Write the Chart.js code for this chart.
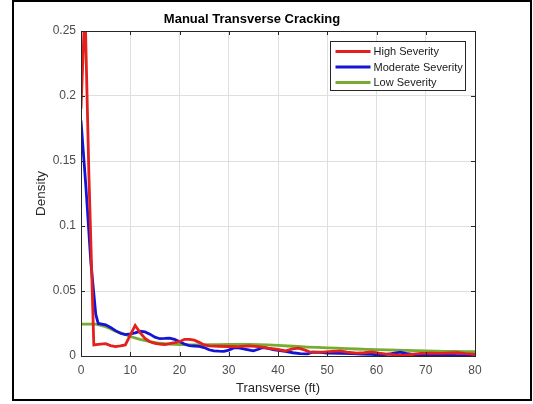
<!DOCTYPE html>
<html>
<head>
<meta charset="utf-8">
<script src="https://cdn.jsdelivr.net/npm/chart.js@4.4.1/dist/chart.umd.min.js"></script>
<style>
  html, body { margin: 0; padding: 0; background: #fff; }
  #wrap { position: relative; width: 533px; height: 404px; }
  #frame { position: absolute; left: 12px; top: 0; width: 516px; height: 397px; border: 2px solid #000; }
  #c { position: absolute; left: 0; top: 0; }
</style>
</head>
<body>
<div id="wrap">
  <div id="frame"></div>
  <canvas id="c" width="533" height="404"></canvas>
</div>
<script>
// Density curves for manual transverse cracking, by severity level
const highX = [0, 0.8, 1.6, 2.6, 3.5, 5, 6, 7, 8, 9, 10, 11, 12, 13, 14, 15, 16, 17, 18, 19, 20, 21, 22, 23, 24, 25, 26, 28, 30, 32, 34, 36, 38, 40, 41.5, 43, 44.2, 45.5, 46.5, 49, 51, 52.7, 54, 56, 57.5, 59, 60.5, 62, 64, 65.5, 67, 69, 71, 73, 75, 76.5, 78, 80];
const highY = [0.19, 0.27, 0.14, 0.0085, 0.009, 0.0095, 0.008, 0.0072, 0.0078, 0.0085, 0.016, 0.0235, 0.018, 0.0135, 0.011, 0.0097, 0.0092, 0.0088, 0.0095, 0.0102, 0.011, 0.0128, 0.0128, 0.0122, 0.0105, 0.0085, 0.0078, 0.0075, 0.0073, 0.0072, 0.0078, 0.0072, 0.006, 0.005, 0.004, 0.0055, 0.006, 0.0045, 0.003, 0.003, 0.0035, 0.004, 0.003, 0.0022, 0.0025, 0.0032, 0.0022, 0.0015, 0.0008, 0.0005, 0.0012, 0.002, 0.0022, 0.002, 0.0023, 0.0025, 0.0018, 0.0013];

const moderateX = [0, 1, 2, 3, 3.5, 5, 6, 7, 8, 9, 10, 11, 12, 13, 14, 15, 16, 17, 18, 19, 20, 21, 22, 23, 24, 25, 26, 27, 28, 29, 30, 31, 32, 33, 34, 35, 36, 37, 38, 39, 40, 41.5, 43, 44.5, 46, 47, 48.5, 50, 52.7, 55, 57, 59, 61, 63, 64.8, 66, 68, 70, 72, 74.4, 76, 77.8, 79, 80];
const moderateY = [0.181, 0.13, 0.072, 0.032, 0.025, 0.024, 0.022, 0.0195, 0.0175, 0.0165, 0.017, 0.0178, 0.019, 0.0185, 0.0168, 0.0145, 0.0133, 0.0135, 0.0138, 0.0128, 0.011, 0.0092, 0.008, 0.0077, 0.0074, 0.0065, 0.0048, 0.004, 0.0037, 0.0036, 0.0045, 0.0062, 0.0063, 0.0055, 0.0048, 0.004, 0.0052, 0.0065, 0.0058, 0.005, 0.0044, 0.0035, 0.0025, 0.0018, 0.0016, 0.003, 0.0028, 0.0022, 0.002, 0.0018, 0.0015, 0.0012, 0.0008, 0.0018, 0.003, 0.002, 0.0009, 0.0009, 0.0008, 0.0009, 0.0004, 0.0002, 0.0011, 0.0013];

const lowX = [0, 2, 3, 4, 5, 6, 7, 8, 9, 10, 12, 14, 16, 18, 20, 22, 24, 26, 28, 30, 32, 34, 36, 38, 40, 42, 44, 46, 48, 50, 52, 54, 56, 58, 60, 62, 64, 66, 68, 70, 72, 74, 76, 78, 80];
const lowY = [0.0245, 0.0245, 0.0245, 0.0235, 0.0225, 0.021, 0.019, 0.0178, 0.0165, 0.015, 0.0128, 0.011, 0.0098, 0.0092, 0.0088, 0.0086, 0.0086, 0.0087, 0.0088, 0.0089, 0.009, 0.009, 0.0088, 0.0085, 0.0081, 0.0077, 0.0073, 0.0069, 0.0066, 0.0063, 0.006, 0.0057, 0.0054, 0.0051, 0.0049, 0.0047, 0.0045, 0.0043, 0.0041, 0.0039, 0.0038, 0.0036, 0.0035, 0.0034, 0.0033];

const seriesNames = ['High Severity', 'Moderate Severity', 'Low Severity'];
const seriesColors = ['#e3201d', '#1414d6', '#77ac30'];

const xTickValues = [0, 10, 20, 30, 40, 50, 60, 70, 80];
const yTickValues = [0, 0.05, 0.1, 0.15, 0.2, 0.25];
const yTickLabels = ['0', '0.05', '0.1', '0.15', '0.2', '0.25'];

const toPoints = (xs, ys) => xs.map((x, i) => ({ x: x, y: ys[i] }));

const FONT = "'Liberation Sans', Arial, Helvetica, sans-serif";
const AXIS_DARK = '#262626';
const LINE_W = 2.8;

// Box around the axes with inward tick marks on all four sides
const axesBox = {
  id: 'axesBox',
  afterDatasetsDraw(chart) {
    const { ctx, chartArea: a, scales } = chart;
    const len = 4;
    ctx.save();
    ctx.strokeStyle = AXIS_DARK;
    ctx.lineWidth = 1;
    ctx.beginPath();
    xTickValues.forEach(v => {
      const px = Math.round(scales.x.getPixelForValue(v)) + 0.5;
      ctx.moveTo(px, a.bottom); ctx.lineTo(px, a.bottom - len);
      ctx.moveTo(px, a.top); ctx.lineTo(px, a.top + len);
    });
    yTickValues.forEach(v => {
      const py = Math.round(scales.y.getPixelForValue(v)) + 0.5;
      ctx.moveTo(a.left, py); ctx.lineTo(a.left + len, py);
      ctx.moveTo(a.right, py); ctx.lineTo(a.right - len, py);
    });
    ctx.stroke();
    ctx.strokeRect(Math.round(a.left) + 0.5, Math.round(a.top) + 0.5,
                   Math.round(a.right - a.left), Math.round(a.bottom - a.top));
    ctx.restore();
  }
};

// Legend drawn inside the axes, top-right, with a framed box
const boxedLegend = {
  id: 'boxedLegend',
  afterDraw(chart) {
    const { ctx, chartArea: a } = chart;
    const boxW = 135, boxH = 49;
    const bx = Math.round(a.right - 10 - boxW) + 0.5;
    const by = Math.round(a.top + 10) + 0.5;
    ctx.save();
    ctx.fillStyle = '#fff';
    ctx.fillRect(bx, by, boxW, boxH);
    ctx.strokeStyle = AXIS_DARK;
    ctx.lineWidth = 1;
    ctx.strokeRect(bx, by, boxW, boxH);
    ctx.font = '11px ' + FONT;
    ctx.textBaseline = 'middle';
    ctx.textAlign = 'left';
    chart.data.datasets.forEach((ds, i) => {
      const y = by + 10 + i * 15.5;
      ctx.strokeStyle = ds.borderColor;
      ctx.lineWidth = LINE_W;
      ctx.beginPath();
      ctx.moveTo(bx + 5, y);
      ctx.lineTo(bx + 40, y);
      ctx.stroke();
      ctx.fillStyle = '#1a1a1a';
      ctx.fillText(ds.label, bx + 43, y + 0.5);
    });
    ctx.restore();
  }
};

new Chart(document.getElementById('c'), {
  type: 'line',
  data: {
    datasets: [
      { label: seriesNames[0], data: toPoints(highX, highY) },
      { label: seriesNames[1], data: toPoints(moderateX, moderateY) },
      { label: seriesNames[2], data: toPoints(lowX, lowY) }
    ].map((d, i) => Object.assign(d, {
      borderColor: seriesColors[i],
      backgroundColor: seriesColors[i],
      borderWidth: LINE_W,
      pointRadius: 0,
      tension: 0,
      fill: false
    }))
  },
  options: {
    responsive: false,
    animation: false,
    events: [],
    layout: { padding: { left: 29, right: 58, top: 6, bottom: 4 } },
    plugins: {
      legend: { display: false },
      tooltip: { enabled: false },
      title: {
        display: true,
        text: 'Manual Transverse Cracking',
        color: '#000',
        font: { family: FONT, size: 13, weight: 'bold', lineHeight: 1.2 },
        padding: { top: 5.2, bottom: 4.2 }
      }
    },
    scales: {
      x: {
        type: 'linear',
        min: 0, max: 80,
        afterFit(s) { s.height = 44; },
        afterBuildTicks(s) { s.ticks = xTickValues.map(v => ({ value: v })); },
        ticks: { color: '#4d4d4d', font: { family: FONT, size: 12 }, padding: 7, maxRotation: 0 },
        grid: { color: '#dfdfdf', drawTicks: false },
        border: { display: false },
        title: {
          display: true, text: 'Transverse (ft)', color: '#262626',
          font: { family: FONT, size: 13, lineHeight: 1.2 }, padding: { top: 4, bottom: 4 }
        }
      },
      y: {
        min: 0, max: 0.25,
        afterFit(s) { s.width = 52; },
        afterBuildTicks(s) { s.ticks = yTickValues.map(v => ({ value: v })); },
        ticks: {
          color: '#4d4d4d', font: { family: FONT, size: 12 }, padding: 5,
          callback: v => yTickLabels[yTickValues.indexOf(v)] ?? ''
        },
        grid: { color: '#dfdfdf', drawTicks: false },
        border: { display: false },
        title: {
          display: true, text: 'Density', color: '#262626',
          font: { family: FONT, size: 13.5, lineHeight: 1.2 }, padding: { top: 4, bottom: 4 }
        }
      }
    }
  },
  plugins: [axesBox, boxedLegend]
});
</script>
</body>
</html>
